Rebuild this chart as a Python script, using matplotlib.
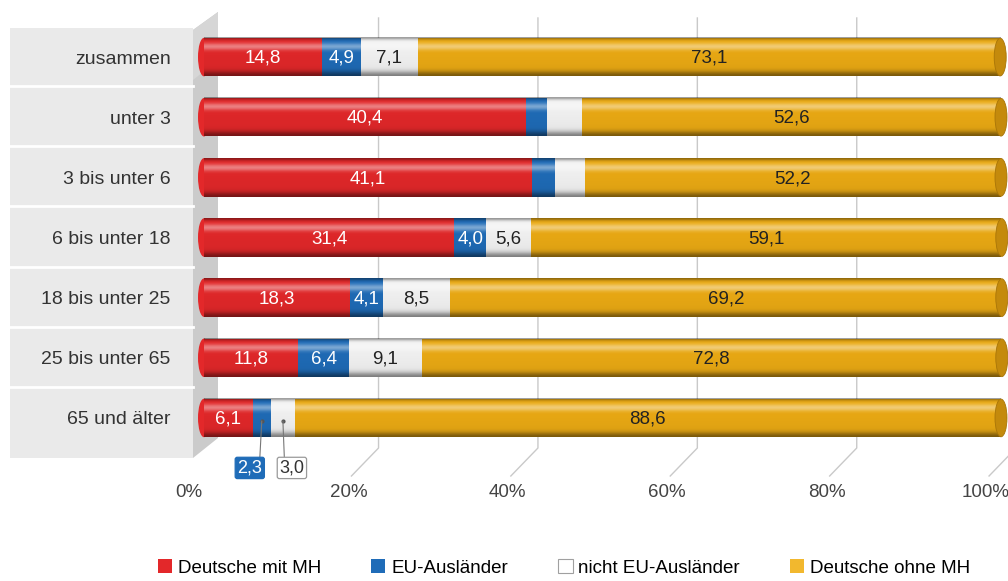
import matplotlib
matplotlib.use("Agg")
import matplotlib.pyplot as plt
import numpy as np
from matplotlib.patches import Rectangle, Polygon, Ellipse, Patch
from matplotlib.transforms import ScaledTranslation

plt.rcParams['font.family'] = ['Liberation Sans', 'DejaVu Sans']

# ---- data ----
categories = ["zusammen", "unter 3", "3 bis unter 6", "6 bis unter 18",
              "18 bis unter 25", "25 bis unter 65", "65 und älter"]
series_names = ["Deutsche mit MH", "EU-Ausländer", "nicht EU-Ausländer", "Deutsche ohne MH"]
deutsche_mit_mh = [14.8, 40.4, 41.1, 31.4, 18.3, 11.8, 6.1]
eu_auslaender = [4.9, 2.6, 3.0, 4.0, 4.1, 6.4, 2.3]
nicht_eu_auslaender = [7.1, 4.4, 3.7, 5.6, 8.5, 9.1, 3.0]
deutsche_ohne_mh = [73.1, 52.6, 52.2, 59.1, 69.2, 72.8, 88.6]
# which labels are printed in the reference (None = not shown, 'out' = callout below bar)
label_mode = [
    ["in", "in", "in", "in"],
    ["in", None, None, "in"],
    ["in", None, None, "in"],
    ["in", "in", "in", "in"],
    ["in", "in", "in", "in"],
    ["in", "in", "in", "in"],
    ["in", "out", "out", "in"],
]
xticks = [0, 20, 40, 60, 80, 100]
xticklabels = ["0%", "20%", "40%", "60%", "80%", "100%"]

series = [deutsche_mit_mh, eu_auslaender, nicht_eu_auslaender, deutsche_ohne_mh]
colors = ["#e3282a", "#1f6cb8", "#f4f4f4", "#ecab14"]
text_colors = ["white", "white", "#222222", "#222222"]

W, H = 1008, 581
fig = plt.figure(figsize=(W / 100, H / 100), dpi=100)

# ---- background layer in pixel coords ----
bg = fig.add_axes([0, 0, 1, 1], zorder=0)
bg.set_xlim(0, W)
bg.set_ylim(H, 0)
bg.axis("off")

AX_L, AX_R, AX_T, AX_B = 204, 1001, 27, 448
row_h = (AX_B - AX_T) / len(categories)

bg.add_patch(Rectangle((10, 28), 183, 430, facecolor="#eaeaea", edgecolor="none"))
for k in range(1, len(categories)):
    yy = AX_T + k * row_h - 1
    bg.plot([10, 193], [yy, yy], color="white", lw=2)
bg.add_patch(Polygon([(193, 30), (218, 12), (218, 438), (193, 458)],
                     closed=True, facecolor="#cbcbcb", edgecolor="none"))
bg.add_patch(Polygon([(193, 30), (218, 12), (218, 60), (193, 80)],
                     closed=True, facecolor="#d6d6d6", edgecolor="none"))

# ---- main axes ----
ax = fig.add_axes([AX_L / W, 1 - AX_B / H, (AX_R - AX_L) / W, (AX_B - AX_T) / H], zorder=1)
ax.patch.set_alpha(0)
for s in ax.spines.values():
    s.set_visible(False)

n = len(categories)
ypos = np.arange(n)
bh = 0.64
px_per_unit = (AX_R - AX_L) / 100.0

# gridlines on the back wall with floor diagonals
grid_shift = 1.9
floor_dy = 28 / row_h
for v in xticks[1:]:
    xg = v + grid_shift
    ax.plot([xg, xg, xg - 3.4], [-0.65, n - 0.5, n - 0.5 + floor_dy],
            color="#c9c9c9", lw=1, clip_on=False, zorder=0.5)

# vertical gradient profiles for cylinder look
t = np.linspace(0, 1, 64)
white_a = 0.42 * np.exp(-((t - 0.24) / 0.09) ** 2)
black_a = 0.38 * np.exp(-(t / 0.06) ** 2) + 0.42 * np.exp(-((1 - t) / 0.12) ** 2) + 0.06 * t
wimg = np.zeros((64, 1, 4)); wimg[..., :3] = 1.0; wimg[:, 0, 3] = white_a
kimg = np.zeros((64, 1, 4)); kimg[:, 0, 3] = np.clip(black_a, 0, 1)

for i in range(n):
    vals = [s[i] for s in series]
    total = sum(vals)
    # rounded left end
    ax.add_patch(Ellipse((0, i), 12 / px_per_unit, bh, facecolor=colors[0],
                         edgecolor="none", zorder=2.5, clip_on=False))
    left = 0
    for j, v in enumerate(vals):
        ax.barh(i, v, left=left, height=bh, color=colors[j], edgecolor="none", zorder=3)
        left += v
    ext = (0, total, i + bh / 2, i - bh / 2)
    ax.imshow(wimg, extent=ext, aspect="auto", zorder=4, interpolation="bilinear")
    ax.imshow(kimg, extent=ext, aspect="auto", zorder=4, interpolation="bilinear")
    # right end face
    ax.add_patch(Ellipse((total, i), 12 / px_per_unit, bh * 0.98, facecolor="#c48a0c",
                         edgecolor="#a87508", lw=0.6, zorder=5, clip_on=False))
    # labels
    left = 0
    for j, v in enumerate(vals):
        cx = left + v / 2
        txt = f"{v:.1f}".replace(".", ",")
        mode = label_mode[i][j]
        if mode == "in":
            ax.text(cx, i + 0.02, txt, ha="center", va="center", fontsize=13.5,
                    color=text_colors[j], zorder=6)
        elif mode == "out":
            if j == 1:
                off = (-12, -47); fc, ec, tc, rel = colors[1], colors[1], "white", (0.9, 1.0)
            else:
                off = (9, -47); fc, ec, tc, rel = "white", "#9a9a9a", "#333333", (0.2, 1.0)
            ax.plot([cx], [i + 0.05], marker="o", ms=2, color="#555555", zorder=6)
            ax.annotate(txt, xy=(cx, i + 0.05), xytext=off, textcoords="offset pixels",
                        ha="center", va="center", fontsize=13, color=tc, zorder=7,
                        bbox=dict(boxstyle="round,pad=0.12", fc=fc, ec=ec, lw=0.9),
                        arrowprops=dict(arrowstyle="-", color="#777777", lw=0.8,
                                        shrinkA=0, shrinkB=0, relpos=rel),
                        annotation_clip=False)
        left += v

ax.set_xlim(0, 100)
ax.set_ylim(n - 0.5, -0.5)
ax.set_yticks(ypos)
ax.set_yticklabels(categories, fontsize=14, color="#333333")
ax.tick_params(axis="y", length=0, pad=24)
ax.set_xticks(xticks)
ax.set_xticklabels(xticklabels, fontsize=13.5, color="#444444")
ax.tick_params(axis="x", length=0, pad=26)
for lab in ax.get_xticklabels():
    lab.set_transform(lab.get_transform() + ScaledTranslation(-0.15, 0, fig.dpi_scale_trans))

# ---- legend ----
handles = [Patch(facecolor=colors[0], edgecolor="none"),
           Patch(facecolor=colors[1], edgecolor="none"),
           Patch(facecolor="white", edgecolor="#a0a0a0", lw=0.8),
           Patch(facecolor="#f2b82e", edgecolor="none")]
fig.legend(handles, series_names, loc="center", bbox_to_anchor=(564 / W, 1 - 568 / H),
           ncol=4, frameon=False, fontsize=13.5, handlelength=0.75, handleheight=0.75,
           handletextpad=0.3, columnspacing=2.7, borderpad=0)

fig.savefig("out.png", dpi=100)
